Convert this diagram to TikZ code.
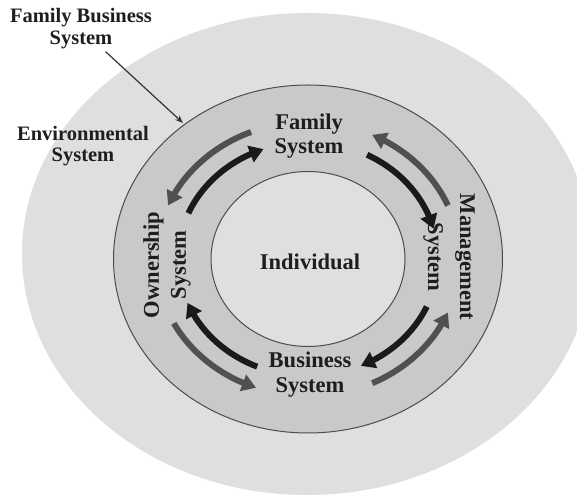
\documentclass[tikz,border=0pt]{standalone}
\usepackage{fontspec}
\setmainfont{Liberation Serif}
\usetikzlibrary{arrows.meta,bending,positioning}

\definecolor{envgray}{HTML}{DFDFE1}
\definecolor{ringgray}{HTML}{C9C9CB}
\definecolor{coregray}{HTML}{DFDFE0}
\definecolor{arcgray}{HTML}{505050}
\definecolor{arcblack}{HTML}{1A1A1A}
\definecolor{inkgray}{HTML}{1E1E1E}

\begin{document}
\begin{tikzpicture}[x=0.5pt,y=0.5pt,
    blackarc/.style={draw=arcblack,line width=3pt,-{Triangle[length=7pt,width=8.5pt]}},
    grayarc/.style={draw=arcgray,line width=3pt,-{Triangle[length=7pt,width=8.5pt]}},
    inlbl/.style={font=\fontsize{11.25}{12}\selectfont\bfseries,align=center,text=inkgray,inner sep=1pt},
    outlbl/.style={font=\fontsize{10.25}{11}\selectfont\bfseries,align=center,text=inkgray,inner sep=1pt},
    leader/.style={draw=black!80,line width=0.6pt,-{Stealth[length=4pt,width=3pt]}}]
  \clip (0,-501) rectangle (577,0);
  \fill[white] (0,-501) rectangle (577,0);
  \coordinate (mid) at (308,-259);
  % environment, ring and core
  \fill[envgray] (307,-254) ellipse[x radius=285,y radius=241];
  \filldraw[fill=ringgray,draw=black!70,line width=0.5pt] (mid) ellipse[x radius=194.5,y radius=174];
  \filldraw[fill=coregray,draw=black!70,line width=0.5pt] (mid) ellipse[x radius=97,y radius=87.5];

  % labels
  \node[outlbl] (fbs) at (81,-29) {Family Business\\System};
  \node[outlbl,font=\fontsize{10.25}{10.5}\selectfont\bfseries] (env) at (83,-146) {Environmental\\System};
  \node[inlbl] (fam) at (309,-136) {Family\\System};
  \node[inlbl] (ind) at (310,-262) {Individual};
  \node[inlbl,font=\fontsize{11.25}{12.5}\selectfont\bfseries] (bus) at (310,-375) {Business\\System};
  \node[inlbl,rotate=-90,font=\fontsize{11.25}{16}\selectfont\bfseries] (mgmt) at (449,-257) {Management\\System};
  \node[inlbl,rotate=90,font=\fontsize{11.25}{13.5}\selectfont\bfseries] (own) at (167,-265) {Ownership\\System};

  % pointer to the ring
  \coordinate (ringedge) at (183,-123);
  \draw[leader] (fbs) -- (ringedge);

  % inner track, clockwise
  \draw[blackarc] (mid) ++(157:130 and 117) arc[start angle=157,end angle=110,x radius=130,y radius=117];
  \draw[blackarc] (mid) ++(63:130 and 117) arc[start angle=63,end angle=15,x radius=130,y radius=117];
  \draw[blackarc] (mid) ++(-24:130 and 117) arc[start angle=-24,end angle=-66,x radius=130,y radius=117];
  \draw[blackarc] (mid) ++(247:130 and 117) arc[start angle=247,end angle=202,x radius=130,y radius=117];
  % outer track, counter clockwise
  \draw[grayarc] (mid) ++(112:152 and 137) arc[start angle=112,end angle=157,x radius=152,y radius=137];
  \draw[grayarc] (mid) ++(23:152 and 137) arc[start angle=23,end angle=65,x radius=152,y radius=137];
  \draw[grayarc] (mid) ++(-65:152 and 137) arc[start angle=-65,end angle=-23,x radius=152,y radius=137];
  \draw[grayarc] (mid) ++(208:152 and 137) arc[start angle=208,end angle=250,x radius=152,y radius=137];
\end{tikzpicture}
\end{document}
